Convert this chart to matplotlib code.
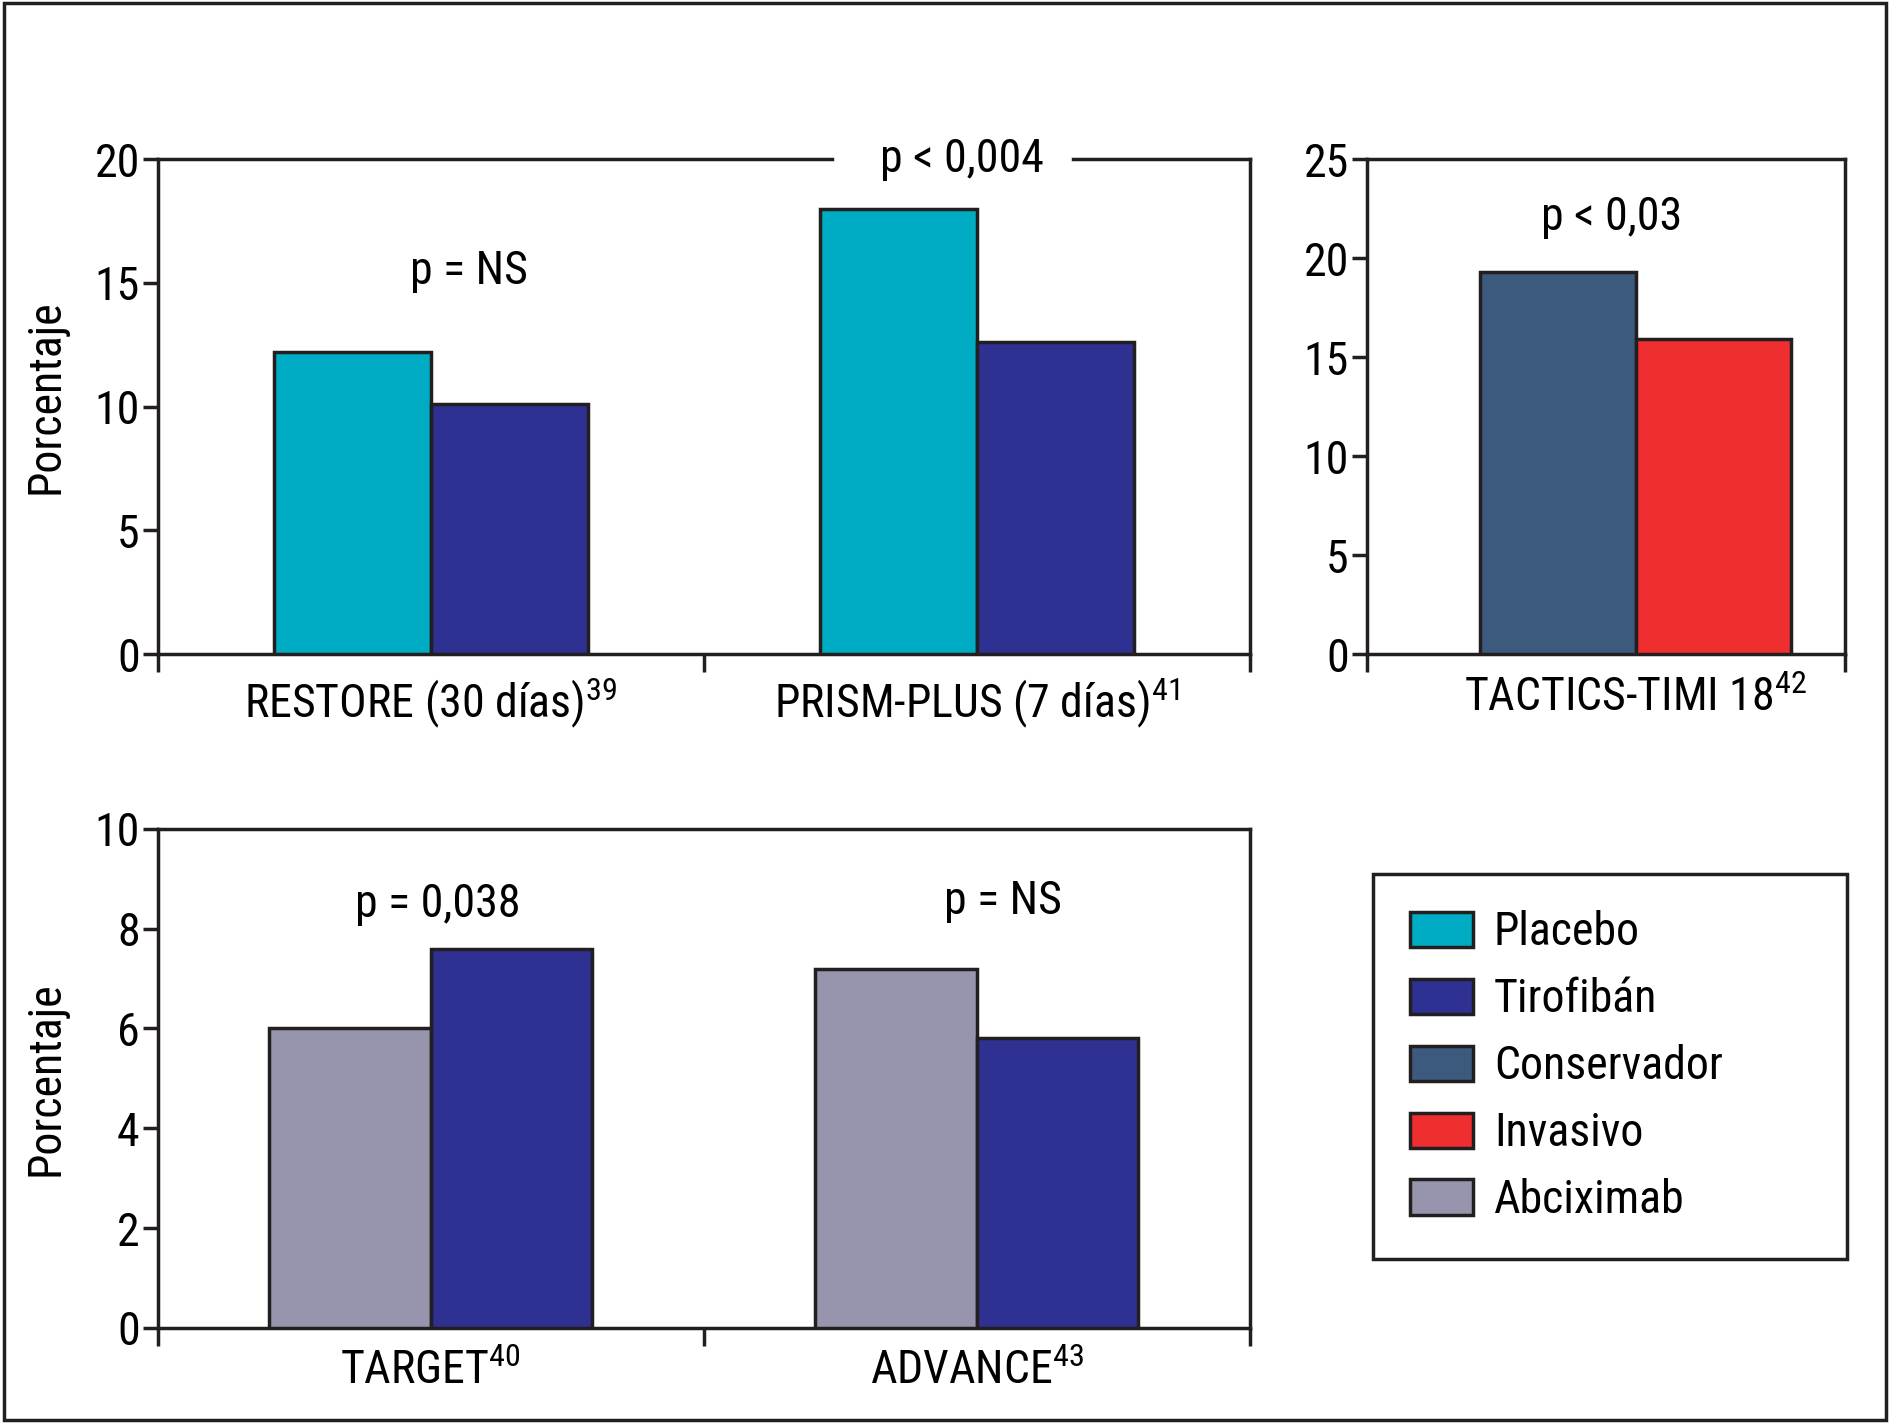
import matplotlib
matplotlib.use("Agg")
import matplotlib.pyplot as plt
from matplotlib.patches import Patch, Rectangle

plt.rcParams['font.family'] = ['Roboto Condensed', 'Archivo Narrow', 'DejaVu Sans']

# Datos (porcentaje)
estudios_arriba = ["RESTORE (30 días)$\\mathregular{^{39}}$", "PRISM-PLUS (7 días)$\\mathregular{^{41}}$"]
placebo = [12.2, 18.0]
tirofiban_arriba = [10.1, 12.6]

estudio_tactics = ["TACTICS-TIMI 18$\\mathregular{^{42}}$"]
conservador = [19.3]
invasivo = [15.9]

estudios_abajo = ["TARGET$\\mathregular{^{40}}$", "ADVANCE$\\mathregular{^{43}}$"]
abciximab = [6.0, 7.2]
tirofiban_abajo = [7.6, 5.8]

p_arriba = ["p = NS", "p < 0,004"]
p_tactics = "p < 0,03"
p_abajo = ["p = 0,038", "p = NS"]

colores = {
    "Placebo": "#00ACC4",
    "Tirofibán": "#2E3192",
    "Conservador": "#3C5A7E",
    "Invasivo": "#EE2E2F",
    "Abciximab": "#9794AE",
}
borde = "#231F20"
lw = 2.5
fs = 33

fig = plt.figure(figsize=(18.9, 14.23), dpi=100)
fig.patches.append(Rectangle((0.002, 0.002), 0.996, 0.996, transform=fig.transFigure,
                             fill=False, edgecolor=borde, linewidth=2.5))


def estilo(ax, ymax, paso):
    ax.set_ylim(0, ymax)
    ax.set_yticks(range(0, ymax + 1, paso))
    for s in ax.spines.values():
        s.set_linewidth(lw)
        s.set_color(borde)
    ax.tick_params(axis='y', which='major', length=11, width=lw, pad=2, labelsize=fs, color=borde)
    ax.tick_params(axis='x', which='major', length=13, width=lw, labelbottom=False, color=borde)
    ax.tick_params(axis='x', which='minor', length=0, pad=15, labelsize=fs)


# --- arriba izquierda ---
ax1 = fig.add_axes([0.0835, 0.5402, 0.5778, 0.348])
x = list(range(len(estudios_arriba)))
w = 0.287
ax1.bar([i - w / 2 for i in x], placebo, w, color=colores["Placebo"], edgecolor=borde, linewidth=lw, zorder=3)
ax1.bar([i + w / 2 for i in x], tirofiban_arriba, w, color=colores["Tirofibán"], edgecolor=borde, linewidth=lw, zorder=3)
ax1.set_xlim(-0.5, len(x) - 0.5)
ax1.set_xticks([-0.5, 0.5, 1.5])
ax1.set_xticks(x, estudios_arriba, minor=True)
estilo(ax1, 20, 5)
ax1.spines['top'].set_visible(False)
ax1.plot([0, 0.617], [1, 1], transform=ax1.transAxes, color=borde, lw=lw, clip_on=False)
ax1.plot([0.838, 1], [1, 1], transform=ax1.transAxes, color=borde, lw=lw, clip_on=False)
ax1.set_ylabel("Porcentaje", fontsize=fs)
ax1.yaxis.set_label_coords(-0.083, 0.52)
ax1.text(0.285, 0.774, p_arriba[0], transform=ax1.transAxes, ha='center', va='center', fontsize=fs)
ax1.text(0.736, 1.0, p_arriba[1], transform=ax1.transAxes, ha='center', va='center', fontsize=fs)

# --- arriba derecha ---
ax2 = fig.add_axes([0.7232, 0.5402, 0.2532, 0.348])
w2 = 0.325
ax2.bar([-w2 / 2], conservador, w2, color=colores["Conservador"], edgecolor=borde, linewidth=lw, zorder=3)
ax2.bar([w2 / 2], invasivo, w2, color=colores["Invasivo"], edgecolor=borde, linewidth=lw, zorder=3)
ax2.set_xlim(-0.562, 0.438)
ax2.set_xticks([-0.562, 0.438])
ax2.set_xticks([0], estudio_tactics, minor=True)
estilo(ax2, 25, 5)
ax2.text(0.511, 0.883, p_tactics, transform=ax2.transAxes, ha='center', va='center', fontsize=fs)

# --- abajo izquierda ---
ax3 = fig.add_axes([0.0835, 0.0669, 0.5778, 0.3506])
w3 = 0.296
ax3.bar([i - w3 / 2 for i in x], abciximab, w3, color=colores["Abciximab"], edgecolor=borde, linewidth=lw, zorder=3)
ax3.bar([i + w3 / 2 for i in x], tirofiban_abajo, w3, color=colores["Tirofibán"], edgecolor=borde, linewidth=lw, zorder=3)
ax3.set_xlim(-0.5, len(x) - 0.5)
ax3.set_xticks([-0.5, 0.5, 1.5])
ax3.set_xticks(x, estudios_abajo, minor=True)
estilo(ax3, 10, 2)
ax3.set_ylabel("Porcentaje", fontsize=fs)
ax3.yaxis.set_label_coords(-0.083, 0.5)
ax3.text(0.256, 0.850, p_abajo[0], transform=ax3.transAxes, ha='center', va='center', fontsize=fs)
ax3.text(0.774, 0.855, p_abajo[1], transform=ax3.transAxes, ha='center', va='center', fontsize=fs)

# --- leyenda ---
handles = [Patch(facecolor=c, edgecolor=borde, linewidth=lw, label=k) for k, c in colores.items()]
leg = fig.legend(handles=handles, loc='upper left', bbox_to_anchor=(0.7264, 0.3861, 0.2506, 0.0),
                 mode='expand', fontsize=fs, frameon=True, fancybox=False, framealpha=1,
                 borderaxespad=0, handlelength=1.39, handleheight=0.8, handletextpad=0.45,
                 labelspacing=0.5, borderpad=0.8)
leg.get_frame().set_edgecolor(borde)
leg.get_frame().set_linewidth(lw)

fig.savefig("out.png", dpi=100, facecolor='white')
